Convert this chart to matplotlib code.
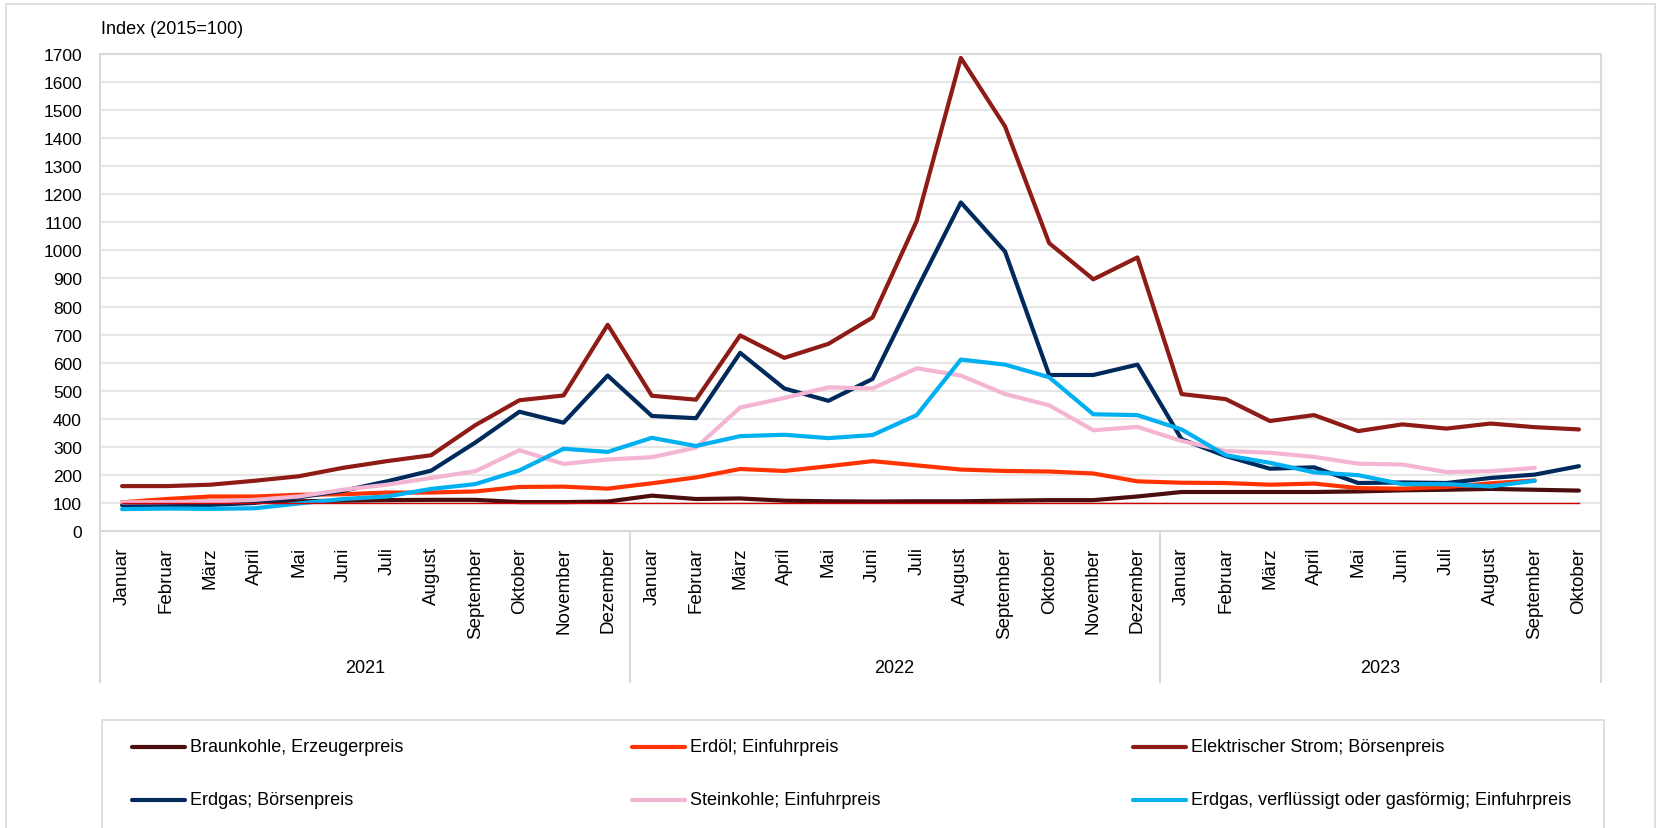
import matplotlib
matplotlib.use("Agg")
import matplotlib.pyplot as plt
from matplotlib.lines import Line2D
from matplotlib.patches import Rectangle
import numpy as np

plt.rcParams['font.family'] = ['Liberation Sans', 'DejaVu Sans']

# ---------------- data ----------------
months_2021 = ["Januar", "Februar", "März", "April", "Mai", "Juni", "Juli", "August",
               "September", "Oktober", "November", "Dezember"]
months_2022 = list(months_2021)
months_2023 = ["Januar", "Februar", "März", "April", "Mai", "Juni", "Juli", "August",
               "September", "Oktober"]
years = ["2021", "2022", "2023"]

braunkohle = [102, 103, 104, 105, 106, 108, 110, 111, 111, 103, 103, 105,
              126, 114, 116, 108, 106, 105, 106, 106, 108, 110, 110, 123,
              139, 139, 139, 139, 141, 145, 147, 150, 147, 144]
erdoel = [102, 114, 123, 123, 129, 131, 137, 137, 141, 157, 158, 151,
          170, 191, 221, 214, 231, 249, 234, 219, 214, 212, 205, 177,
          172, 171, 165, 169, 153, 151, 157, 170, 180, None]
strom = [160, 160, 165, 179, 195, 225, 249, 270, 377, 466, 483, 735,
         482, 468, 697, 617, 667, 761, 1105, 1686, 1442, 1026, 897, 975,
         488, 470, 392, 413, 356, 380, 365, 383, 370, 362]
erdgas_boerse = [92, 92, 93, 100, 120, 143, 177, 215, 315, 425, 386, 554,
                 410, 402, 635, 508, 464, 542, 860, 1171, 996, 556, 556, 593,
                 327, 267, 222, 227, 171, 173, 171, 189, 201, 231]
steinkohle = [102, 103, 105, 111, 123, 147, 165, 189, 213, 288, 239, 255,
              263, 297, 440, 474, 512, 508, 580, 554, 488, 448, 359, 371,
              321, 285, 279, 264, 240, 237, 210, 213, 225, None]
erdgas_einfuhr = [78, 80, 79, 81, 98, 114, 123, 150, 167, 216, 293, 282,
                  332, 303, 338, 343, 331, 342, 413, 611, 593, 548, 416, 413,
                  362, 270, 243, 209, 199, 167, 167, 159, 179, None]
basis = [100] * 34

series_names = ["Braunkohle, Erzeugerpreis", "Erdöl; Einfuhrpreis",
                "Elektrischer Strom; Börsenpreis", "Erdgas; Börsenpreis",
                "Steinkohle; Einfuhrpreis",
                "Erdgas, verflüssigt oder gasförmig; Einfuhrpreis"]
series_values = [braunkohle, erdoel, strom, erdgas_boerse, steinkohle, erdgas_einfuhr]
series_colors = ["#4a0e0e", "#ff3300", "#8e1b16", "#002a5c", "#f4b5d3", "#00b0f0"]

# ---------------- figure ----------------
W, H = 1657, 829
fig = plt.figure(figsize=(W / 100, H / 100), dpi=100)
fig.patch.set_facecolor("white")

# outer frame
fig.add_artist(Rectangle((6 / W, -0.05), 1649 / W, 1 - 5 / H + 0.05,
                         transform=fig.transFigure, fill=False,
                         edgecolor="#d9d9d9", linewidth=1.2))

ax = fig.add_axes([100 / W, 1 - 532 / H, 1501 / W, 477 / H])

labels = months_2021 + months_2022 + months_2023
x = np.arange(len(labels))

def to_arr(v):
    return np.array([np.nan if a is None else a for a in v], dtype=float)

for name, vals, col in zip(series_names, series_values, series_colors):
    ax.plot(x, to_arr(vals), color=col, lw=3.0, solid_capstyle="round",
            solid_joinstyle="round", label=name, zorder=3)
ax.plot(x, basis, color="#d00000", lw=1.0, zorder=4)

ax.set_xlim(-0.5, len(labels) - 0.5)
ax.set_ylim(0, 1700)
ax.set_yticks(np.arange(0, 1701, 100))
ax.yaxis.grid(True, color="#e6e6e6", lw=1.5)
ax.set_axisbelow(True)
for s in ax.spines.values():
    s.set_color("#d9d9d9")
    s.set_linewidth(1.5)

ax.set_xticks(x)
ax.set_xticklabels(labels, rotation=90, fontsize=13.5, va="top", ha="center")
ax.tick_params(axis="x", length=0, pad=11)
ax.tick_params(axis="y", length=0, pad=13, labelsize=12.5)

# group separators and year labels
bounds = [-0.5, 11.5, 23.5, 33.5]
trans = ax.get_xaxis_transform()
depth = -(683 - 532) / 477
for b in bounds:
    ax.plot([b, b], [0, depth], transform=trans, color="#d9d9d9", lw=1.5,
            clip_on=False)
for i, yr in enumerate(years):
    xc = (bounds[i] + bounds[i + 1]) / 2
    ax.text(xc, -(669 - 532) / 477, yr, transform=trans, ha="center",
            va="center", fontsize=13)

fig.text(101 / W, 1 - 30 / H, "Index (2015=100)", ha="left", va="center",
         fontsize=13)

# legend box
fig.add_artist(Rectangle((102 / W, -0.05), 1502 / W, (829 - 721) / H + 0.05,
                         transform=fig.transFigure, fill=False,
                         edgecolor="#d9d9d9", linewidth=1.2))
col_x = [132, 632, 1133]
row_y = [748, 801]
for k, (name, col) in enumerate(zip(series_names, series_colors)):
    cx = col_x[k % 3]
    ry = row_y[k // 3]
    fig.add_artist(Line2D([cx / W, (cx + 53) / W], [1 - ry / H, 1 - ry / H],
                          transform=fig.transFigure, color=col, lw=3.0,
                          solid_capstyle="round"))
    fig.text((cx + 58) / W, 1 - ry / H, name, ha="left", va="center",
             fontsize=13)

fig.savefig("out.png", dpi=100)
